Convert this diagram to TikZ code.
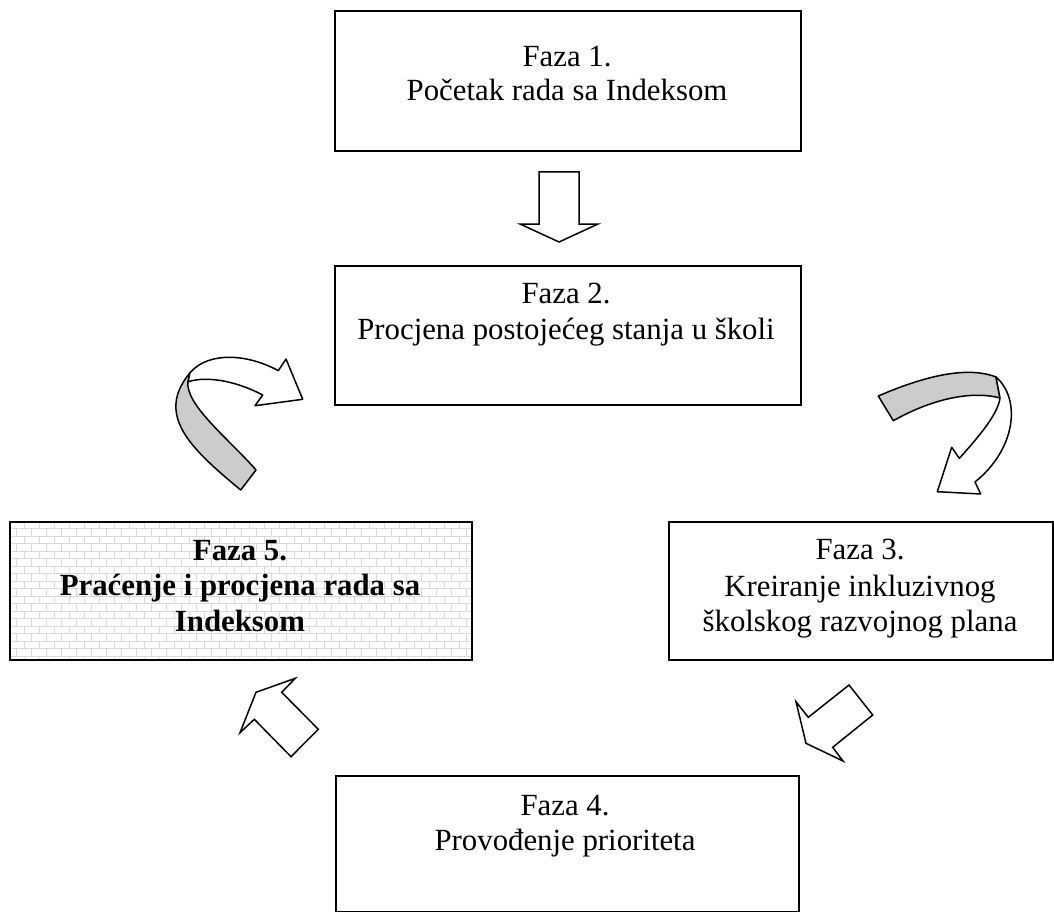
\documentclass[tikz,border=0pt]{standalone}
\usepackage{fontspec}
\setmainfont{Liberation Serif}
\newcommand\bigfont{\fontsize{30.8}{35.5}\selectfont}
\begin{document}
\begin{tikzpicture}[x=1pt,y=-1pt,
  box/.style={draw, line width=1.8pt, inner sep=0pt, anchor=north west},
  txt/.style={anchor=base, inner sep=0pt, font=\bigfont},
  btxt/.style={anchor=base, inner sep=0pt, font=\bigfont\bfseries},
  blockarrow/.style={draw, fill=white, line width=1.5pt, line join=miter},
  ribbon/.style={draw, fill=black!20, line width=1.5pt, line join=round},
  brick/.style={draw=black!15, line width=0.8pt}]
\useasboundingbox (0,0) rectangle (1054,912);

% boxes
\node[box, minimum width=466pt, minimum height=140pt] (b1) at (334,10) {};
\node[box, minimum width=466pt, minimum height=139pt] (b2) at (334,265) {};
\node[box, minimum width=384pt, minimum height=138pt] (b3) at (668,521) {};
\node[box, minimum width=463pt, minimum height=136pt] (b4) at (335,775) {};

% brick pattern of box 5
\begin{scope}
  \clip (9,521) rectangle (471,659);
  \foreach \r in {0,...,18}{
    \pgfmathsetmacro{\yy}{521+\r*7.5}
    \pgfmathsetmacro{\off}{mod(\r,2)*7.5}
    \draw[brick] (0,\yy) -- (480,\yy);
    \foreach \c in {0,...,32}{
      \draw[brick] ({9+\off+\c*15},\yy) -- ++(0,7.5);
    }
  }
\end{scope}
\node[box, minimum width=462pt, minimum height=138pt] (b5) at (9,521) {};

% texts
\node[txt] (t1a) at (567,67) {Faza 1.};
\node[txt] (t1b) at (567,101) {Početak rada sa Indeksom};
\node[txt] (t2a) at (566,303) {Faza 2.};
\node[txt] (t2b) at (566,339) {Procjena postojećeg stanja u školi};
\node[txt] (t3a) at (860,559) {Faza 3.};
\node[txt] (t3b) at (860,596) {Kreiranje inkluzivnog};
\node[txt] (t3c) at (860,631) {školskog razvojnog plana};
\node[txt] (t4a) at (565,815) {Faza 4.};
\node[txt] (t4b) at (565,850) {Provođenje prioriteta};
\node[btxt] (t5a) at (240,560) {Faza 5.};
\node[btxt] (t5b) at (240,595) {Praćenje i procjena rada sa};
\node[btxt] (t5c) at (240,631) {Indeksom};

% down block arrow (1 -> 2)
\draw[blockarrow] (539,172) -- (579,172) -- (579,224) -- (598,224) -- (559,242) -- (520,224) -- (539,224) -- cycle;

% block arrow 4 -> 5 (up-left)
\draw[blockarrow] (256,692.3) -- (295.3,678.3) -- (281.7,692.3) -- (318.3,729.3) -- (291,756.7) -- (254.3,719.3) -- (240,732.7) -- cycle;

% block arrow 3 -> 4 (down-left)
\draw[blockarrow] (849,685) -- (872.7,715) -- (832.7,747.3) -- (843,761) -- (806,743.3) -- (796,701.7) -- (808.3,717.3) -- cycle;

% curved arrow 5 -> 2
\draw[ribbon] (240.7,490) .. controls (190,448) and (155,415) .. (190,372.7)
  -- (188,381.7) .. controls (185,405) and (230,440) .. (256,470) -- cycle;
\draw[blockarrow, line join=round] (190,372.7) .. controls (210,350) and (250,355) .. (278.3,370.7)
  -- (286,359) -- (302.7,399.3) -- (255,405.7) -- (262.7,395)
  .. controls (240,383) and (210,375) .. (188,381.7) -- cycle;

% curved arrow 2 -> 3
\draw[ribbon] (878.3,396) .. controls (920,378) and (965,365) .. (996,377)
  -- (1000,398) .. controls (970,390) and (930,400) .. (893.3,420.7) -- cycle;
\draw[blockarrow, line join=round] (996,377) .. controls (1022,400) and (1015,450) .. (975,482)
  -- (980.7,494) -- (937.3,491.7) -- (951.7,447.3) -- (959.3,458.3)
  .. controls (985,430) and (998,412) .. (1000,398) -- cycle;
\end{tikzpicture}
\end{document}
